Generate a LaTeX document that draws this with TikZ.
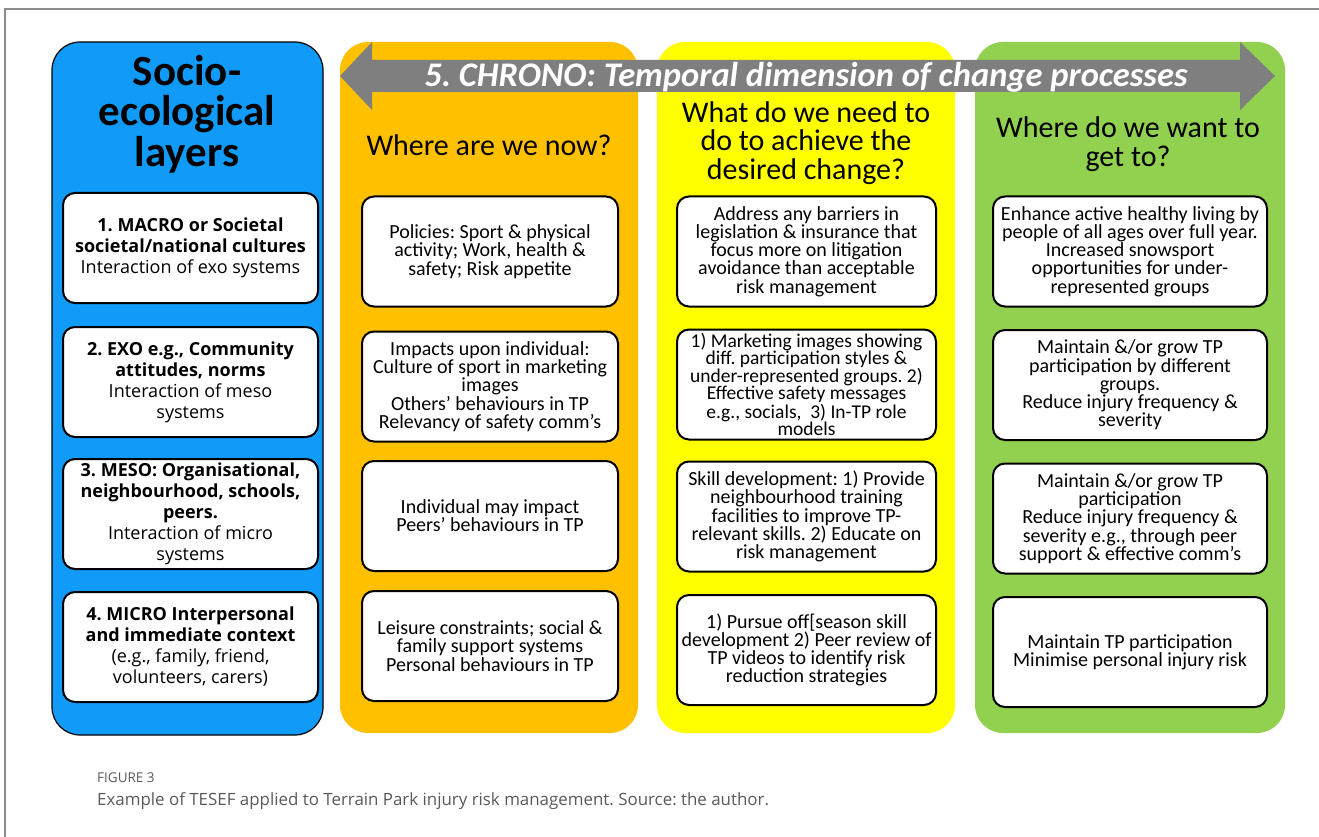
\documentclass[tikz,border=0pt]{standalone}
\usepackage{fontspec}
\setmainfont{Carlito}
\newfontfamily\capfont{Open Sans}
\newfontfamily\layerfont{Open Sans}
\definecolor{layerblue}{HTML}{0F9BF7}
\definecolor{nowamber}{HTML}{FFC000}
\definecolor{doyellow}{HTML}{FFFF00}
\definecolor{goalgreen}{HTML}{92D050}
\definecolor{chronogray}{HTML}{7F7F7F}
\definecolor{framegray}{HTML}{8C8C8C}
\definecolor{captiongray}{HTML}{5A5A5A}
\frenchspacing
\begin{document}
\begin{tikzpicture}[x=1pt,y=-1pt,
  column/.style={rectangle,rounded corners=28pt,inner sep=0pt},
  card/.style={rectangle,draw=black,line width=2pt,fill=white,rounded corners=12pt,
    inner sep=1pt,align=center,minimum height=110pt},
  cardtext/.style={font=\fontsize{20}{18.2}\selectfont},
  densetext/.style={font=\fontsize{19.5}{17}\selectfont},
  layertext/.style={font=\layerfont\fontsize{18}{21}\selectfont},
  heading/.style={align=center,font=\fontsize{30}{28.5}\selectfont},
]
\useasboundingbox (0,0) rectangle (1319,837);
\fill[white] (0,0) rectangle (1319,837);
% page frame
\draw[framegray,line width=1.5pt] (1319,9) -- (5,9) -- (5,837);

% four columns
\node[column,fill=layerblue,draw=black,line width=1.2pt,minimum width=271pt,minimum height=693pt] (colA) at (187.5,388.5) {};
\node[column,fill=nowamber,minimum width=298pt,minimum height=691pt] (colB) at (489,387.5) {};
\node[column,fill=doyellow,minimum width=298pt,minimum height=691pt] (colC) at (806,387.5) {};
\node[column,fill=goalgreen,minimum width=310pt,minimum height=691pt] (colD) at (1130,387.5) {};

% double-headed time arrow
\fill[chronogray] (340,76) -- (372,42) -- (372,60) -- (1240,60) -- (1240,42) -- (1275,76)
  -- (1240,110) -- (1240,92) -- (372,92) -- (372,110) -- cycle;
\node[text=white,inner sep=0pt,font=\fontsize{34.5}{34}\selectfont\bfseries\itshape] (chrono) at (806,77)
  {5. CHRONO: Temporal dimension of change processes};

% headings
\node[align=center,font=\fontsize{43}{40.5}\selectfont\bfseries] (hA) at (187,114) {Socio-\\ecological\\layers};
\node[heading] (hB) at (489,145) {Where are we now?};
\node[heading] (hC) at (806,143) {What do we need to\\do to achieve the\\desired change?};
\node[heading] (hD) at (1128,144) {Where do we want to\\get to?};

% socio-ecological layers
\begin{scope}[every node/.append style={card,layertext,minimum width=255pt}]
\node (a1) at (190.5,248) {\textbf{1. MACRO or Societal}\\\textbf{societal/national cultures}\\Interaction of exo systems};
\node (a2) at (190.5,382) {\textbf{2. EXO e.g., Community}\\\textbf{attitudes, norms}\\Interaction of meso\\systems};
\node (a3) at (190.5,514) {\textbf{3. MESO: Organisational,}\\\textbf{neighbourhood, schools,}\\\textbf{peers.}\\Interaction of micro\\systems};
\node (a4) at (190.5,647) {\textbf{4. MICRO Interpersonal}\\\textbf{and immediate context}\\(e.g., family, friend,\\volunteers, carers)};
\end{scope}

% where are we now
\begin{scope}[every node/.append style={card,cardtext,minimum width=256pt}]
\node (b1) at (490,251.5) {Policies: Sport \& physical\\activity; Work, health \&\\safety; Risk appetite};
\node (b2) at (490,386.5) {Impacts upon individual:\\Culture of sport in marketing\\images\\Others’ behaviours in TP\\Relevancy of safety comm’s};
\node (b3) at (490,516) {Individual may impact\\Peers’ behaviours in TP};
\node (b4) at (490,646) {Leisure constraints; social \&\\family support systems\\Personal behaviours in TP};
\end{scope}

% what needs to be done
\begin{scope}[every node/.append style={card,cardtext,minimum width=259pt}]
\node (c1) at (806.5,251.5) {Address any barriers in\\legislation \& insurance that\\focus more on litigation\\avoidance than acceptable\\risk management};
\node[densetext] (c2) at (806.5,384.5) {1) Marketing images showing\\diff. participation styles \&\\under-represented groups. 2)\\Effective safety messages\\e.g., socials,~ 3) In-TP role\\models};
\node (c3) at (806.5,516.5) {Skill development: 1) Provide\\neighbourhood training\\facilities to improve TP-\\relevant skills. 2) Educate on\\risk management};
\node (c4) at (806.5,650) {1) Pursue off[season skill\\development 2) Peer review of\\TP videos to identify risk\\reduction strategies};
\end{scope}

% where we want to get to
\begin{scope}[every node/.append style={card,cardtext,minimum width=274pt}]
\node (d1) at (1130,251.5) {Enhance active healthy living by\\people of all ages over full year.\\Increased snowsport\\opportunities for under-\\represented groups};
\node (d2) at (1130,385) {Maintain \&/or grow TP\\participation by different\\groups.\\Reduce injury frequency \&\\severity};
\node (d3) at (1130,518.5) {Maintain \&/or grow TP\\participation\\Reduce injury frequency \&\\severity e.g., through peer\\support \& effective comm’s};
\node (d4) at (1130,652) {Maintain TP participation\\Minimise personal injury risk};
\end{scope}

% caption
\node[anchor=west,inner sep=0pt,text=captiongray,font=\capfont\fontsize{13.5}{14}\selectfont] (figlabel) at (97,778) {FIGURE 3};
\node[anchor=west,inner sep=0pt,text=captiongray,font=\capfont\fontsize{16.9}{17}\selectfont] (caption) at (97,801)
  {Example of TESEF applied to Terrain Park injury risk management. Source: the author.};
\end{tikzpicture}
\end{document}
